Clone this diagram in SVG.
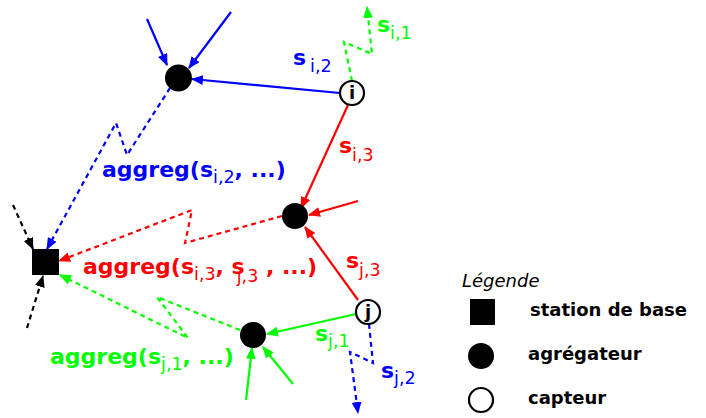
<svg xmlns="http://www.w3.org/2000/svg" width="706" height="418" viewBox="0 0 706 418">
<style>
.b{stroke:#0000ff}.r{stroke:#ff0000}.g{stroke:#00ff00}.k{stroke:#000}
.ln{fill:none;stroke-width:2.2}
.d{stroke-dasharray:5,4}
.t{font-family:"DejaVu Sans",sans-serif;font-weight:bold;font-size:22px}
.sub{font-family:"DejaVu Sans",sans-serif;font-weight:normal;font-size:17.5px}
.lg{font-family:"DejaVu Sans",sans-serif;font-weight:bold;font-size:18px}
.agg{fill:#000}
.cap{fill:#fff;stroke:#000;stroke-width:2.2}
</style>
<defs>
<marker id="ab" viewBox="0 0 12 10" refX="11" refY="5" markerWidth="12" markerHeight="10" orient="auto" markerUnits="userSpaceOnUse"><path d="M0,0L12,5L0,10z" fill="#0000ff"/></marker>
<marker id="ar" viewBox="0 0 12 10" refX="11" refY="5" markerWidth="12" markerHeight="10" orient="auto" markerUnits="userSpaceOnUse"><path d="M0,0L12,5L0,10z" fill="#ff0000"/></marker>
<marker id="ag" viewBox="0 0 12 10" refX="11" refY="5" markerWidth="12" markerHeight="10" orient="auto" markerUnits="userSpaceOnUse"><path d="M0,0L12,5L0,10z" fill="#00ff00"/></marker>
<marker id="ak" viewBox="0 0 12 10" refX="11" refY="5" markerWidth="12" markerHeight="10" orient="auto" markerUnits="userSpaceOnUse"><path d="M0,0L12,5L0,10z" fill="#000"/></marker>
</defs>
<g id="connectors">
<path class="ln b" d="M147,19L167,65" marker-end="url(#ab)"/>
<path class="ln b" d="M231,12L189,68" marker-end="url(#ab)"/>
<path class="ln b" d="M340,93L192,79" marker-end="url(#ab)"/>
<path class="ln b d" d="M170,88L127,155L116,123L47,249" marker-end="url(#ab)"/>
<path class="ln k d" d="M13,205L33,249" marker-end="url(#ak)"/>
<path class="ln k d" d="M27,328L43,276" marker-end="url(#ak)"/>
<path class="ln r" d="M348,105L301,208" marker-end="url(#ar)"/>
<path class="ln r" d="M358,201L309,215" marker-end="url(#ar)"/>
<path class="ln r" d="M358,300L305,227" marker-end="url(#ar)"/>
<path class="ln r d" d="M282,216L185,243L192,210L59,261" marker-end="url(#ar)"/>
<path class="ln g" d="M356,314L267,334" marker-end="url(#ag)"/>
<path class="ln g" d="M246,400L252,348" marker-end="url(#ag)"/>
<path class="ln g" d="M293,384L263,347" marker-end="url(#ag)"/>
<path class="ln g d" d="M240,330L157,297L188,338L60,275" marker-end="url(#ag)"/>
<path class="ln g d" d="M352,81L344,42L372,54L367,7" marker-end="url(#ag)"/>
<path class="ln b d" d="M369,324L373,363L350,352L358,413" marker-end="url(#ab)"/>
</g>
<g id="base-station"><rect x="32" y="249" width="27" height="26" fill="#000"/></g>
<g id="agg-blue"><circle cx="178.5" cy="78" r="13.5" class="agg"/></g>
<g id="agg-red"><circle cx="295" cy="216" r="13" class="agg"/></g>
<g id="agg-green"><circle cx="253" cy="335" r="13" class="agg"/></g>
<g id="sensor-i"><circle cx="352" cy="93" r="12" class="cap"/><text x="352" y="99" text-anchor="middle" class="lg" font-size="16">i</text></g>
<g id="sensor-j"><circle cx="368" cy="312" r="12" class="cap"/><text x="368" y="318" text-anchor="middle" class="lg" font-size="16">j</text></g>
<g id="labels">
<text x="293" y="65" class="t" fill="#0000ff">s<tspan class="sub" dx="4" dy="7">i,2</tspan></text>
<text x="377" y="32" class="t" fill="#00ff00">s<tspan class="sub" dy="7">i,1</tspan></text>
<text x="339" y="153" class="t" fill="#ff0000">s<tspan class="sub" dy="8">i,3</tspan></text>
<text x="102" y="177" class="t" fill="#0000ff">aggreg(s<tspan class="sub" dy="6">i,2</tspan><tspan dy="-6">, ...)</tspan></text>
<text x="83" y="274" class="t" fill="#ff0000">aggreg(s<tspan class="sub" dy="6">i,3</tspan><tspan dy="-6">, s</tspan><tspan class="sub" dx="-8" dy="8">j,3</tspan><tspan dy="-8"> , ...)</tspan></text>
<text x="346" y="268" class="t" fill="#ff0000">s<tspan class="sub" dy="8">j,3</tspan></text>
<text x="315" y="341" class="t" fill="#00ff00">s<tspan class="sub" dy="6">j,1</tspan></text>
<text x="381" y="378" class="t" fill="#0000ff">s<tspan class="sub" dy="6">j,2</tspan></text>
<text x="50" y="364" class="t" fill="#00ff00">aggreg(s<tspan class="sub" dy="6">j,1</tspan><tspan dy="-6">, ...)</tspan></text>
</g>
<g id="legend">
<text x="462" y="287" font-family="DejaVu Sans,sans-serif" font-style="italic" font-size="18">Légende</text>
<rect x="470" y="299" width="25" height="26" fill="#000"/>
<circle cx="481" cy="356" r="13" fill="#000"/>
<circle cx="481" cy="400" r="12" class="cap"/>
<text x="530" y="316" class="lg">station de base</text>
<text x="528" y="360" class="lg">agrégateur</text>
<text x="528" y="404" class="lg">capteur</text>
</g>
</svg>
